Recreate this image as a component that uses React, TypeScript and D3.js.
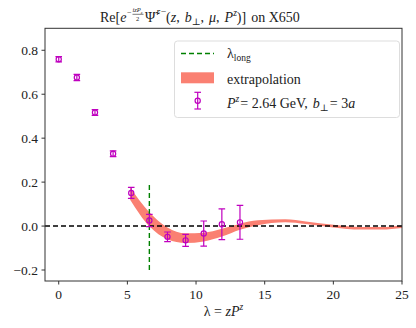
import * as d3 from "d3";

// lattice data points: lambda = z * P^z
const lambda = [0, 1.32, 2.64, 3.96, 5.28, 6.6, 7.92, 9.24, 10.56, 11.88, 13.2];
const values = [0.759, 0.676, 0.517, 0.329, 0.151, 0.025, -0.049, -0.065, -0.034, 0.008, 0.017];
const errors = [0.012, 0.014, 0.013, 0.013, 0.025, 0.028, 0.022, 0.027, 0.057, 0.07, 0.077];

// extrapolation band
const bandLambda = [5.2, 6.6, 7.92, 9.24, 10.56, 11.88, 13.2, 14.5, 16.5, 18, 20, 22, 23.5, 25];
const bandCenter = [0.148, 0.031, -0.033, -0.055, -0.05, -0.03, -0.003, 0.015, 0.024, 0.015, 0.0, -0.01, -0.01, -0.003];
const bandHalf = [0.028, 0.032, 0.027, 0.022, 0.02, 0.018, 0.014, 0.011, 0.007, 0.006, 0.006, 0.006, 0.006, 0.006];

const lambdaLong = 6.6;
const xTicks = [0, 5, 10, 15, 20, 25];
const yTicks = [-0.2, 0, 0.2, 0.4, 0.6, 0.8];

const W = 416;
const H = 328;
const left = 45, right = 402, top = 28.3, bottom = 281;
const font = '"Liberation Serif", "DejaVu Serif", serif';
const fs = 14;
const magenta = "#bf00bf";
const salmon = "#fa8072";

export default function App() {
  const x = d3.scaleLinear().domain([-1, 25]).range([left, right]);
  const y = d3.scaleLinear().domain([-0.25, 0.9]).range([bottom, top]);

  const band = d3
    .area<number>()
    .x((_, i) => x(bandLambda[i]))
    .y0((_, i) => y(bandCenter[i] - bandHalf[i]))
    .y1((_, i) => y(bandCenter[i] + bandHalf[i]))
    .curve(d3.curveMonotoneX);

  const cap = 3.3;

  return (
    <svg width={W} height={H} style={{ position: "absolute", left: 0, top: 0, fontFamily: font }}>
      <rect width={W} height={H} fill="#fff" />
      <defs>
        <clipPath id="plot">
          <rect x={left} y={top} width={right - left} height={bottom - top} />
        </clipPath>
      </defs>

      <g clipPath="url(#plot)">
        <path d={band(bandLambda) ?? ""} fill={salmon} stroke="none" />
        <line x1={left} x2={right} y1={y(0)} y2={y(0)} stroke="#000" strokeWidth={1.4} strokeDasharray="5,3" />
        <line
          x1={x(lambdaLong)} x2={x(lambdaLong)} y1={y(-0.2)} y2={y(0.2)}
          stroke="#008000" strokeWidth={1.4} strokeDasharray="5,3"
        />
        {lambda.map((l, i) => (
          <g key={i} stroke={magenta} strokeWidth={1.2} fill="none">
            <line x1={x(l)} x2={x(l)} y1={y(values[i] - errors[i])} y2={y(values[i] + errors[i])} />
            <line x1={x(l) - cap} x2={x(l) + cap} y1={y(values[i] - errors[i])} y2={y(values[i] - errors[i])} />
            <line x1={x(l) - cap} x2={x(l) + cap} y1={y(values[i] + errors[i])} y2={y(values[i] + errors[i])} />
            <circle cx={x(l)} cy={y(values[i])} r={2.6} />
          </g>
        ))}
      </g>

      {/* frame */}
      <rect x={left} y={top} width={right - left} height={bottom - top} fill="none" stroke="#333" strokeWidth={1} />

      {/* x axis */}
      {xTicks.map((t) => (
        <g key={t}>
          <line x1={x(t)} x2={x(t)} y1={bottom} y2={bottom + 3.5} stroke="#333" />
          <text x={x(t)} y={299} fontSize={13.5} textAnchor="middle" fill="#222">
            {t}
          </text>
        </g>
      ))}
      {/* y axis */}
      {yTicks.map((t) => (
        <g key={t}>
          <line x1={left - 3.5} x2={left} y1={y(t)} y2={y(t)} stroke="#333" />
          <text x={38} y={y(t) + 5} fontSize={13.5} textAnchor="end" fill="#222">
            {t < 0 ? "\u2212" + Math.abs(t).toFixed(1) : t.toFixed(1)}
          </text>
        </g>
      ))}

      {/* x label */}
      <text x={(left + right) / 2} y={316} fontSize={fs} textAnchor="middle" fill="#222">
        λ = <tspan fontStyle="italic">zP</tspan>
        <tspan fontStyle="italic" fontSize={9.5} dy={-6}>z</tspan>
      </text>

      {/* title */}
      <g fill="#222">
        <text x={100} y={22} fontSize={fs}>Re[<tspan fontStyle="italic">e</tspan></text>
        <text x={127} y={14.5} fontSize={8}>−</text>
        <text x={132.5} y={12} fontSize={6.5} fontStyle="italic">
          izP<tspan fontSize={4.5} dy={1.5}>z</tspan>
        </text>
        <line x1={132.5} x2={143.5} y1={14.3} y2={14.3} stroke="#222" strokeWidth={0.6} />
        <text x={136} y={20.5} fontSize={6.5}>2</text>
        <text x={145} y={22} fontSize={fs}>Ψ̃</text>
        <text x={156.5} y={15} fontSize={9.5} fontStyle="italic">r−</text>
        <text x={166} y={22} fontSize={fs}>
          (<tspan fontStyle="italic">z</tspan>,<tspan dx={5} fontStyle="italic">b</tspan>
          <tspan fontSize={9.5} dy={3}>⊥</tspan>
          <tspan dy={-3}>,</tspan><tspan dx={5} fontStyle="italic">μ</tspan>,<tspan dx={5} fontStyle="italic">P</tspan>
          <tspan fontSize={9.5} dy={-6} fontStyle="italic">z</tspan>
          <tspan dy={6}>)]</tspan>
          <tspan dx={5}>on X650</tspan>
        </text>
      </g>

      {/* legend */}
      <g>
        <rect x={174.5} y={41} width={225} height={76.5} rx={3} fill="#fff" fillOpacity={0.8} stroke="#ddd" />
        <line x1={181} x2={214} y1={53.5} y2={53.5} stroke="#008000" strokeWidth={1.4} strokeDasharray="5,3" />
        <text x={227} y={58} fontSize={fs} fill="#222">
          λ<tspan fontSize={9.5} dy={3}>long</tspan>
        </text>
        <rect x={181} y={72.3} width={33} height={11} fill={salmon} />
        <text x={227} y={84} fontSize={fs} fill="#222">extrapolation</text>
        <g stroke={magenta} strokeWidth={1.2} fill="none">
          <line x1={197.7} x2={197.7} y1={92.3} y2={109} />
          <line x1={197.7 - cap} x2={197.7 + cap} y1={92.3} y2={92.3} />
          <line x1={197.7 - cap} x2={197.7 + cap} y1={109} y2={109} />
          <circle cx={197.7} cy={100.7} r={2.6} />
        </g>
        <text x={227} y={107.5} fontSize={fs} fill="#222">
          <tspan fontStyle="italic">P</tspan>
          <tspan fontSize={9.5} dy={-6} fontStyle="italic">z</tspan>
          <tspan dy={6} dx={1}>= 2.64 GeV,</tspan>
          <tspan dx={5} fontStyle="italic">b</tspan>
          <tspan fontSize={9.5} dy={3}>⊥</tspan>
          <tspan dy={-3} dx={1}>= 3</tspan>
          <tspan fontStyle="italic">a</tspan>
        </text>
      </g>
    </svg>
  );
}
